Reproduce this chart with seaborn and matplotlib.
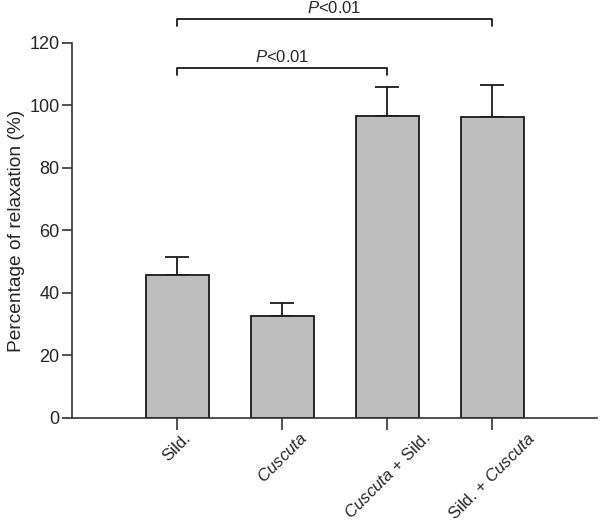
import matplotlib
matplotlib.use("Agg")
import matplotlib.pyplot as plt
import seaborn as sns
import pandas as pd

categories = ["Sild.", "Cuscuta", "Cuscuta + Sild.", "Sild. + Cuscuta"]
tick_labels = ["Sild.", r"$\it{Cuscuta}$", r"$\it{Cuscuta}$ + Sild.", r"Sild. + $\it{Cuscuta}$"]
means = [45.8, 32.5, 96.7, 96.2]
sems = [5.8, 4.3, 9.2, 10.4]
y_ticks = [0, 20, 40, 60, 80, 100, 120]
brackets = [(0, 2, 112.0, "P<0.01"), (0, 3, 127.7, "P<0.01")]

sns.set_style("ticks")
plt.rcParams["font.family"] = ["Liberation Sans", "DejaVu Sans"]
plt.rcParams["mathtext.fontset"] = "custom"
plt.rcParams["mathtext.it"] = "Liberation Sans:italic"
plt.rcParams["mathtext.rm"] = "Liberation Sans"

df = pd.DataFrame({"group": categories, "value": means})

fig = plt.figure(figsize=(6.0, 5.24), dpi=100)
ax = fig.add_axes([0.12, 0.2023, 0.875, 0.7157])

axcol = "#333333"
sns.barplot(data=df, x="group", y="value", order=categories, color="#bebebe",
            width=0.6, edgecolor="#1a1a1a", linewidth=1.3, saturation=1, errorbar=None, ax=ax)

xs = list(range(len(categories)))
ax.errorbar(xs, means, yerr=[[0] * len(sems), sems], fmt="none", ecolor="#1a1a1a",
            elinewidth=1.3, capsize=8.3, capthick=1.3, zorder=0.5)

ax.set_xlim(-1, 4)
ax.set_ylim(0, 120)
ax.set_yticks(y_ticks)
ax.set_yticklabels([str(t) for t in y_ticks], fontsize=13)
ax.set_xticks(xs)
ax.set_xticklabels(tick_labels, rotation=45, ha="center", fontsize=12.2)
ax.set_xlabel("")
ax.set_ylabel("Percentage of relaxation (%)", fontsize=13.8, labelpad=3)

for side in ["top", "right"]:
    ax.spines[side].set_visible(False)
for side in ["left", "bottom"]:
    ax.spines[side].set_color(axcol)
    ax.spines[side].set_linewidth(1.2)
ax.tick_params(axis="y", length=7, width=1.2, color=axcol, pad=2)
ax.tick_params(axis="x", length=8.5, width=1.2, color=axcol, pad=0)

for x0, x1, y, txt in brackets:
    ax.plot([x0, x0, x1, x1], [y - 2.4, y, y, y - 2.4], color="#1a1a1a", lw=1.3,
            clip_on=False)
    ax.text((x0 + x1) / 2, y + 1.0, r"$\it{P}$<0.01", ha="center", va="bottom", fontsize=12,
            clip_on=False)

fig.savefig("out.png", dpi=100)
